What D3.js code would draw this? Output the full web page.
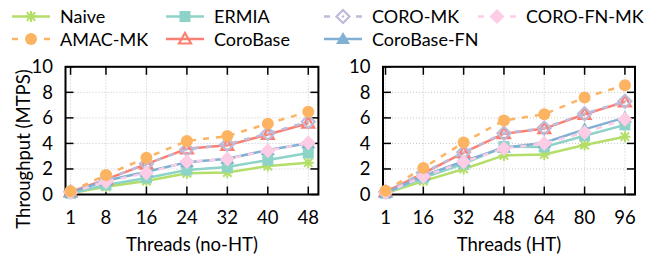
<!DOCTYPE html>
<html><head><meta charset="utf-8">
<script src="https://cdn.jsdelivr.net/npm/d3@7"></script>
<style>body{margin:0;background:#fff} svg{display:block} text{font-family:Lato, sans-serif;fill:#000}</style>
</head><body><svg id="c" width="647" height="260"></svg>
<script>
// ---- data ----
const threadsNoHT = [1, 8, 16, 24, 32, 40, 48];
const threadsHT = [1, 16, 32, 48, 64, 80, 96];
const yTicks = [0, 2, 4, 6, 8, 10];
const seriesNames = ["Naive", "ERMIA", "CORO-MK", "CORO-FN-MK", "AMAC-MK", "CoroBase", "CoroBase-FN"];

// no-HT panel (MTPS)
const naiveNoHT      = [0.10, 0.60, 1.05, 1.66, 1.72, 2.23, 2.49];
const ermiaNoHT      = [0.10, 0.75, 1.30, 1.92, 2.15, 2.70, 3.25];
const coroMKNoHT     = [0.20, 1.20, 2.40, 3.54, 3.93, 4.78, 5.70];
const coroFNMKNoHT   = [0.15, 1.00, 1.68, 2.57, 2.78, 3.43, 4.05];
const amacMKNoHT     = [0.25, 1.53, 2.88, 4.19, 4.58, 5.55, 6.48];
const coroBaseNoHT   = [0.20, 1.18, 2.38, 3.58, 3.85, 4.70, 5.58];
const coroBaseFNNoHT = [0.15, 1.08, 1.78, 2.52, 2.80, 3.48, 4.02];

// HT panel (MTPS)
const naiveHT      = [0.10, 1.05, 2.00, 3.06, 3.14, 3.87, 4.53];
const ermiaHT      = [0.10, 1.30, 2.40, 3.75, 3.72, 4.60, 5.45];
const coroMKHT     = [0.20, 1.70, 3.30, 4.80, 5.20, 6.33, 7.30];
const coroFNMKHT   = [0.15, 1.40, 2.55, 3.60, 4.00, 4.85, 5.90];
const amacMKHT     = [0.30, 2.08, 4.07, 5.80, 6.28, 7.60, 8.56];
const coroBaseHT   = [0.20, 1.65, 3.28, 4.76, 5.16, 6.28, 7.25];
const coroBaseFNHT = [0.12, 1.45, 2.60, 3.66, 4.06, 5.10, 6.02];

// ---- styles ----
const styles = {
  "Naive":       {color: "#b3de69", dash: null,  marker: "asterisk"},
  "ERMIA":       {color: "#8dd3c7", dash: null,  marker: "square"},
  "CORO-MK":     {color: "#bebada", dash: "6,7", marker: "diamondOpen"},
  "CORO-FN-MK":  {color: "#fccde5", dash: "6,7", marker: "diamond"},
  "AMAC-MK":     {color: "#fdb462", dash: "6,7", marker: "circle"},
  "CoroBase":    {color: "#fb8072", dash: null,  marker: "triangleOpen"},
  "CoroBase-FN": {color: "#80b1d3", dash: null,  marker: "triangle"}
};
const drawOrder = ["Naive", "ERMIA", "CoroBase", "CoroBase-FN", "CORO-MK", "CORO-FN-MK", "AMAC-MK"];

const panels = [
  {threads: threadsNoHT, xDomain: [0, 50], xRange: [65.5, 318.4], label: "Threads (no-HT)",
   values: {"Naive": naiveNoHT, "ERMIA": ermiaNoHT, "CORO-MK": coroMKNoHT, "CORO-FN-MK": coroFNMKNoHT,
            "AMAC-MK": amacMKNoHT, "CoroBase": coroBaseNoHT, "CoroBase-FN": coroBaseFNNoHT}},
  {threads: threadsHT, xDomain: [0, 100], xRange: [383, 635], label: "Threads (HT)",
   values: {"Naive": naiveHT, "ERMIA": ermiaHT, "CORO-MK": coroMKHT, "CORO-FN-MK": coroFNMKHT,
            "AMAC-MK": amacMKHT, "CoroBase": coroBaseHT, "CoroBase-FN": coroBaseFNHT}}
];

const svg = d3.select("#c");
svg.append("rect").attr("width", 647).attr("height", 260).attr("fill", "#fff");
const FS = 18.5;
const LFS = 18;

function drawMarker(g, type, color, x, y) {
  switch (type) {
    case "circle":
      g.append("circle").attr("cx", x).attr("cy", y).attr("r", 6).attr("fill", color); break;
    case "square":
      g.append("rect").attr("x", x - 5.5).attr("y", y - 5.5).attr("width", 11).attr("height", 11).attr("fill", color); break;
    case "triangle":
      g.append("path").attr("d", `M${x},${y-7}L${x+7},${y+5}L${x-7},${y+5}Z`).attr("fill", color); break;
    case "triangleOpen":
      g.append("path").attr("d", `M${x},${y-6}L${x+6},${y+4.5}L${x-6},${y+4.5}Z`).attr("fill", "none")
        .attr("stroke", color).attr("stroke-width", 2.2).attr("stroke-linejoin", "miter"); break;
    case "diamond":
      g.append("path").attr("d", `M${x},${y-7.5}L${x+7.5},${y}L${x},${y+7.5}L${x-7.5},${y}Z`).attr("fill", color); break;
    case "diamondOpen":
      g.append("path").attr("d", `M${x},${y-6.5}L${x+6.5},${y}L${x},${y+6.5}L${x-6.5},${y}Z`).attr("fill", "none")
        .attr("stroke", color).attr("stroke-width", 2.2);
      g.append("circle").attr("cx", x).attr("cy", y).attr("r", 1.3).attr("fill", color); break;
    case "asterisk": {
      const a = 5.5, b = 4.2;
      g.append("path").attr("d", `M${x-a},${y}L${x+a},${y}M${x},${y-a}L${x},${y+a}M${x-b},${y-b}L${x+b},${y+b}M${x-b},${y+b}L${x+b},${y-b}`)
        .attr("stroke", color).attr("stroke-width", 2).attr("fill", "none"); break;
    }
  }
}

const yScale = d3.scaleLinear().domain([0, 10]).range([194.5, 66.8]);

panels.forEach((p, pi) => {
  const x = d3.scaleLinear().domain(p.xDomain).range(p.xRange);
  const g = svg.append("g");
  const [x0, x1] = p.xRange, y0 = yScale(0), y1 = yScale(10);
  // grid
  const grid = g.append("g").attr("stroke", "#c8c8c8").attr("stroke-width", 1).attr("stroke-dasharray", "1,2");
  p.threads.forEach(t => grid.append("line").attr("x1", x(t)).attr("x2", x(t)).attr("y1", y0).attr("y2", y1));
  yTicks.slice(1, -1).forEach(v => grid.append("line").attr("x1", x0).attr("x2", x1).attr("y1", yScale(v)).attr("y2", yScale(v)));
  // ticks (inward, mirrored)
  const tk = g.append("g").attr("stroke", "#000").attr("stroke-width", 1.5);
  p.threads.forEach(t => {
    tk.append("line").attr("x1", x(t)).attr("x2", x(t)).attr("y1", y0).attr("y2", y0 - 8);
    tk.append("line").attr("x1", x(t)).attr("x2", x(t)).attr("y1", y1).attr("y2", y1 + 8);
  });
  yTicks.forEach(v => {
    tk.append("line").attr("x1", x0).attr("x2", x0 + 8).attr("y1", yScale(v)).attr("y2", yScale(v));
    tk.append("line").attr("x1", x1).attr("x2", x1 - 8).attr("y1", yScale(v)).attr("y2", yScale(v));
  });
  // frame
  g.append("rect").attr("x", x0).attr("y", y1).attr("width", x1 - x0).attr("height", y0 - y1)
    .attr("fill", "none").attr("stroke", "#000").attr("stroke-width", 2);
  // tick labels
  p.threads.forEach(t => g.append("text").attr("x", x(t)).attr("y", 224).attr("text-anchor", "middle")
    .attr("font-size", FS).text(t));
  yTicks.forEach(v => g.append("text").attr("x", x0 - 12.5).attr("y", yScale(v) + 6.5).attr("text-anchor", "end")
    .attr("font-size", FS).text(v));
  g.append("text").attr("x", (x0 + x1) / 2).attr("y", 251).attr("text-anchor", "middle").attr("font-size", FS).text(p.label);
  // series
  drawOrder.forEach(name => {
    const st = styles[name];
    const vals = p.values[name];
    const pts = p.threads.map((t, i) => [x(t), yScale(vals[i])]);
    const sg = g.append("g");
    sg.append("path").attr("d", d3.line()(pts)).attr("fill", "none").attr("stroke", st.color)
      .attr("stroke-width", 2.5).attr("stroke-dasharray", st.dash);
    pts.forEach(([px, py]) => drawMarker(sg, st.marker, st.color, px, py));
  });
});

// y axis label
svg.append("text").attr("transform", "translate(30,149) rotate(-90)").attr("text-anchor", "middle")
  .attr("font-size", FS).text("Throughput (MTPS)");

// legend
const legPos = {
  "Naive": [12, 16.5], "ERMIA": [166, 16.5], "CORO-MK": [324, 16.5], "CORO-FN-MK": [478, 16.5],
  "AMAC-MK": [12, 39], "CoroBase": [166, 39], "CoroBase-FN": [324, 39]
};
const lg = svg.append("g");
seriesNames.forEach(name => {
  const st = styles[name];
  const [lx, ly] = legPos[name];
  const len = 38;
  if (st.dash) {
    lg.append("line").attr("x1", lx).attr("x2", lx + 6).attr("y1", ly).attr("y2", ly).attr("stroke", st.color).attr("stroke-width", 2.5);
    lg.append("line").attr("x1", lx + len - 6).attr("x2", lx + len).attr("y1", ly).attr("y2", ly).attr("stroke", st.color).attr("stroke-width", 2.5);
  } else {
    lg.append("line").attr("x1", lx).attr("x2", lx + len).attr("y1", ly).attr("y2", ly).attr("stroke", st.color).attr("stroke-width", 2.5);
  }
  drawMarker(lg, st.marker, st.color, lx + len / 2, ly);
  lg.append("text").attr("x", lx + 48).attr("y", ly + 6.5).attr("font-size", LFS).text(name);
});
</script></body></html>
